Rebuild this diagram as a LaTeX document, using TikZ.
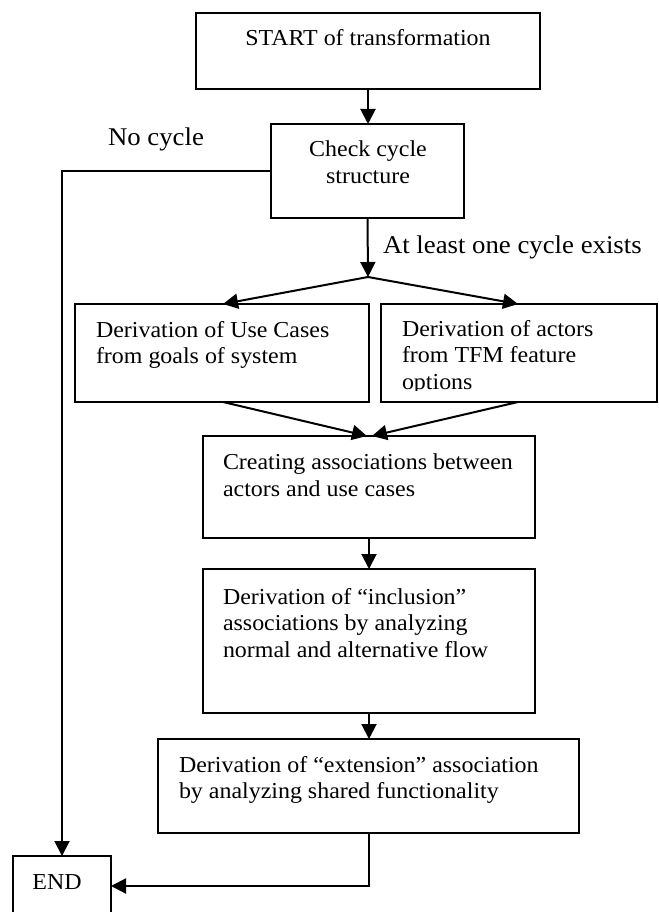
\documentclass[tikz,border=0pt]{standalone}
\usepackage{fontspec}
\setmainfont{Liberation Serif}[FakeStretch=1.05]
\usetikzlibrary{arrows.meta,calc}

\begin{document}
\begin{tikzpicture}[x=1pt,y=-1pt,
  box/.style={draw=black, line width=1.3pt, rectangle, inner sep=0pt, outer sep=0pt, anchor=north west},
  txt/.style={inner sep=0pt, outer sep=0pt, anchor=north west, align=left, font=\fontsize{22.8}{26.7}\selectfont},
  ctxt/.style={inner sep=0pt, outer sep=0pt, anchor=north, align=center, font=\fontsize{22.8}{26.7}\selectfont},
  lbl/.style={inner sep=0pt, outer sep=0pt, font=\fontsize{25.5}{28}\selectfont},
  flow/.style={line width=2pt, -{Triangle[width=15pt,length=15pt]}},
  link/.style={line width=2pt}
]
\useasboundingbox (0,0) rectangle (658,912);

% process boxes
\node[box, minimum width=344pt, minimum height=76pt]  (start)     at (196,13)  {};
\node[box, minimum width=193pt, minimum height=94pt]  (check)     at (271,124) {};
\node[box, minimum width=294pt, minimum height=98pt]  (ucase)     at (75,304)  {};
\node[box, minimum width=276pt, minimum height=98pt]  (actors)    at (381,304) {};
\node[box, minimum width=332pt, minimum height=102pt] (creating)  at (203,436) {};
\node[box, minimum width=332pt, minimum height=144pt] (inclusion) at (203,569) {};
\node[box, minimum width=421pt, minimum height=94pt]  (ext)       at (158,739) {};
\node[box, minimum width=98pt,  minimum height=60pt]  (END)       at (13,856)  {};

% box texts
\node[ctxt] (start-t) at (368,29) {START of transformation};
\node[ctxt] (check-t) at (368,141) {Check cycle\\structure};
\node[txt] (ucase-t) at (96,321) {Derivation of Use Cases\\from goals of system};
\begin{scope}
  \clip (381,304) rectangle (657,390);
  \node[txt] (actors-t) at (402,320) {Derivation of actors\\from TFM feature\\options};
\end{scope}
\node[txt] (creating-t) at (223,454) {Creating associations between\\actors and use cases};
\node[txt] (inclusion-t) at (223,588) {Derivation of \textquotedblleft inclusion\textquotedblright\\associations by analyzing\\normal and alternative flow};
\node[txt] (ext-t) at (179,756) {Derivation of \textquotedblleft extension\textquotedblright{} association\\by analyzing shared functionality};
\node[inner sep=0pt, font=\fontsize{22.8}{26.7}\selectfont] (END-t) at (57,882) {END};

% branch labels
\node[lbl] (nocycle) at (156,139) {No cycle};
\node[lbl, anchor=west] (cycle) at (383,247) {At least one cycle exists};

% connectors
\coordinate (apex) at (368,277);
\draw[flow] (start.south) -- (start.south |- check.north);
\draw[flow] (check.south) -- (apex);
\draw[flow] (apex) -- ($(ucase.north west)+(148,0)$);
\draw[flow] (apex) -- ($(actors.north west)+(137,0)$);
\draw[flow] ($(ucase.south west)+(148,0)$) -- ($(creating.north west)+(164,0)$);
\draw[flow] ($(actors.south west)+(137,0)$) -- ($(creating.north west)+(169,0)$);
\draw[flow] (creating.south) -- (creating.south |- inclusion.north);
\draw[flow] (inclusion.south) -- (inclusion.south |- ext.north);
\draw[flow] (check.west) -| (END.north);
\draw[flow] (ext.south) |- (END.east);
\end{tikzpicture}
\end{document}
